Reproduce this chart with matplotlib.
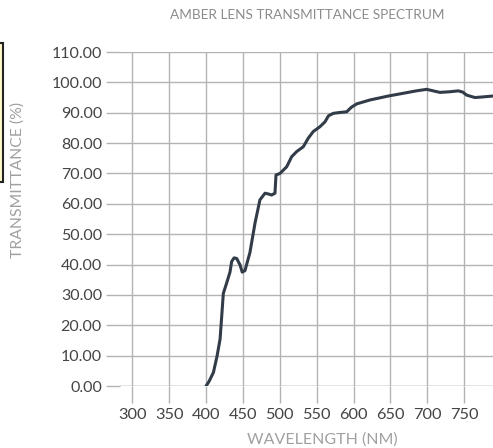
import matplotlib
matplotlib.use("Agg")
import matplotlib.pyplot as plt
from matplotlib.patches import Rectangle

wavelength = [400, 404, 410, 415, 419, 423.4, 428, 432.4, 434.7, 438, 441.5, 446, 449, 452.7,
              459.5, 466.3, 473, 479.9, 485, 488.9, 493.4, 494.8, 500.2, 509.3, 516, 522.8,
              531.8, 538.5, 545.3, 554.4, 561.2, 566, 572.5, 582, 590.6, 597, 604.1, 622.2,
              635.7, 647, 667.3, 685, 699, 708, 717, 730, 741.9, 748, 753.3, 764.5, 775, 788.9]
transmittance = [0.0, 1.5, 4.5, 10, 15.5, 30.5, 34, 37.5, 41, 42.2, 42, 39.9, 37.5, 38,
                 44, 53.6, 61.3, 63.5, 63.2, 62.9, 63.5, 69.5, 70, 72.2, 75.5, 77.2,
                 78.8, 81.6, 83.8, 85.4, 87, 89, 89.8, 90.1, 90.3, 91.8, 92.9, 94.2,
                 94.9, 95.5, 96.4, 97.2, 97.7, 97.2, 96.7, 96.9, 97.2, 96.8, 95.8, 95.0, 95.2, 95.5]

x_ticks = [300, 350, 400, 450, 500, 550, 600, 650, 700, 750]
y_ticks = [0, 10, 20, 30, 40, 50, 60, 70, 80, 90, 100, 110]

W, H = 493, 448
fig = plt.figure(figsize=(W / 100, H / 100), dpi=100)
ax = fig.add_axes([120 / W, (H - 386) / H, (493 - 120) / W, (386 - 52) / H])

plt.rcParams['font.family'] = ['Lato', 'DejaVu Sans']
font = 'Lato'

ax.plot(wavelength, transmittance, color='#323c48', lw=2.2, solid_capstyle='round',
        solid_joinstyle='round', zorder=3)

ax.set_xlim(283.3, 789)
ax.set_ylim(0, 110)
ax.set_xticks(x_ticks)
ax.set_yticks(y_ticks)
ax.set_xticklabels([str(v) for v in x_ticks], fontfamily=font, fontsize=11.8, color='#444444')
ax.set_yticklabels([f"{v:.2f}" for v in y_ticks], fontfamily=font, fontsize=11.5, color='#444444')
ax.grid(True, color='#b3b3b3', lw=1.0, zorder=1)
for s in ax.spines.values():
    s.set_visible(False)
ax.tick_params(axis='y', length=10, width=1.0, color='#b3b3b3', pad=3)
ax.tick_params(axis='x', length=12, width=1.0, color='#b3b3b3', pad=4)
ax.axhline(0, color='#b3b3b3', lw=1.0, zorder=1)

fig.text(307 / W, 1 - 15 / H, "AMBER LENS TRANSMITTANCE SPECTRUM", ha='center', va='center',
         fontfamily=font, fontsize=9.85, color='#8c8c8c')
fig.text(322 / W, 1 - 440 / H, "WAVELENGTH (NM)", ha='center', va='center',
         fontfamily=font, fontsize=11.5, color='#a0a0a0')
fig.text(18 / W, 1 - 180 / H, "TRANSMITTANCE (%)", ha='center', va='center', rotation=90,
         fontfamily=font, fontsize=11.3, color='#a0a0a0')

fig.patches.append(Rectangle((-6 / W, 1 - 182 / H), 9 / W, 139 / H, transform=fig.transFigure,
                             facecolor='#fff8c8', edgecolor='#222222', lw=1.5, figure=fig))

fig.savefig('out.png', dpi=100)
